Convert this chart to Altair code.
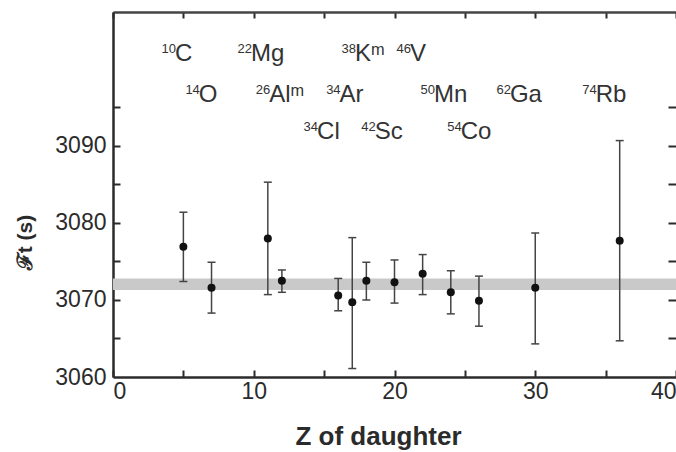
import altair as alt
import pandas as pd

# ---- data ----
z = [5, 7, 11, 12, 16, 17, 18, 20, 22, 24, 26, 30, 36]
ft = [3076.9, 3071.6, 3078.0, 3072.5, 3070.6, 3069.7, 3072.5, 3072.3, 3073.4, 3071.0, 3069.9, 3071.6, 3077.7]
ft_lo = [3072.4, 3068.3, 3070.7, 3071.0, 3068.6, 3061.1, 3070.0, 3069.6, 3070.7, 3068.2, 3066.6, 3064.3, 3064.7]
ft_hi = [3081.4, 3074.9, 3085.3, 3073.9, 3072.8, 3078.1, 3074.9, 3075.2, 3075.9, 3073.8, 3073.1, 3078.7, 3090.7]

mass = ["10", "22", "38", "46", "14", "26", "34", "50", "62", "74", "34", "42", "54"]
element = ["C", "Mg", "K\u1d50", "V", "O", "Al\u1d50", "Ar", "Mn", "Ga", "Rb", "Cl", "Sc", "Co"]
label_x = [4.4, 9.8, 17.2, 21.1, 6.1, 11.1, 16.1, 22.8, 28.2, 34.3, 14.5, 18.6, 24.7]
label_y = [3101.0, 3101.0, 3101.0, 3101.0,
           3095.7, 3095.7, 3095.7, 3095.7, 3095.7, 3095.7,
           3090.9, 3090.9, 3090.9]

band_lo, band_hi = 3071.3, 3072.8
x_domain = [0, 40]
y_domain = [3060, 3107.4]
x_label_vals = [0, 10, 20, 30, 40]
x_tick_vals = [0, 5, 10, 15, 20, 25, 30, 35, 40]
y_label_vals = [3060, 3070, 3080, 3090]
y_tick_vals = [3065, 3070, 3075, 3080, 3085, 3090, 3095]

W, H = 563, 365
INK = "#2b2b2b"
FONT = "Liberation Sans"

pts = pd.DataFrame({"z": z, "ft": ft, "lo": ft_lo, "hi": ft_hi})
labels = pd.DataFrame({"x": label_x, "y": label_y, "mass": mass, "el": element})
band = pd.DataFrame({"x0": [x_domain[0]], "x1": [x_domain[1]], "lo": [band_lo], "hi": [band_hi]})

xs = alt.Scale(domain=x_domain, nice=False, zero=False)
ys = alt.Scale(domain=y_domain, nice=False, zero=False)

# axes
ax_bottom_main = alt.Axis(orient="bottom", values=x_label_vals, ticks=False, tickSize=0,
                          domain=True, domainWidth=2.5, domainColor=INK, grid=False,
                          labelFontSize=23, labelColor=INK, labelPadding=3, labelFlush=True,
                          format="d",
                          title="Z of daughter", titleFontSize=26, titleFontWeight="bold",
                          titleColor=INK, titleX=265, titleY=67, titleAlign="center",
                          titleBaseline="alphabetic")
ax_bottom_ticks = alt.Axis(orient="top", offset=-H, values=x_tick_vals, labels=False,
                           domain=False, ticks=True, tickSize=7, tickWidth=2, tickColor=INK,
                           grid=False, title=None)
ax_top = alt.Axis(orient="bottom", offset=-H, values=x_tick_vals, labels=False,
                  domain=True, domainWidth=2.5, domainColor="#444", ticks=True, tickSize=6,
                  tickWidth=2, tickColor=INK, grid=False, title=None)
ax_left_main = alt.Axis(orient="left", values=y_label_vals, ticks=False, tickSize=0,
                        domain=True, domainWidth=2.5, domainColor=INK, grid=False,
                        labelFontSize=23, labelColor=INK, labelPadding=7, format="d",
                        title="\u2131t (s)", titleFontSize=21, titleFontWeight="bold",
                        titleColor=INK, titleX=-88, titleY=230, titleAlign="center",
                        titleBaseline="middle")
ax_left_ticks = alt.Axis(orient="right", offset=-W, values=y_tick_vals, labels=False,
                         domain=False, ticks=True, tickSize=7, tickWidth=2, tickColor=INK,
                         grid=False, title=None)
ax_right_ticks = alt.Axis(orient="left", offset=-W, values=y_tick_vals, labels=False,
                          domain=False, ticks=True, tickSize=8, tickWidth=2, tickColor=INK,
                          grid=False, title=None)

band_layer = alt.Chart(band).mark_rect(color="#c9c9c9").encode(
    x=alt.X("x0:Q", scale=xs, axis=ax_bottom_main),
    x2="x1:Q",
    y=alt.Y("lo:Q", scale=ys, axis=ax_left_main),
    y2="hi:Q",
)

rules = alt.Chart(pts).mark_rule(color="#444", strokeWidth=1.5).encode(
    x=alt.X("z:Q", scale=xs, axis=ax_bottom_ticks),
    y=alt.Y("lo:Q", scale=ys, axis=ax_left_ticks),
    y2="hi:Q",
)

caps = alt.Chart(pts).transform_fold(["lo", "hi"], as_=["k", "v"]).mark_tick(
    orient="horizontal", size=8, thickness=1.5, color="#444", opacity=1
).encode(
    x=alt.X("z:Q", scale=xs, axis=ax_top),
    y=alt.Y("v:Q", scale=ys, axis=ax_right_ticks),
)

points = alt.Chart(pts).mark_circle(size=64, color="#111", opacity=1).encode(
    x=alt.X("z:Q", scale=xs, axis=None),
    y=alt.Y("ft:Q", scale=ys, axis=None),
)

el_text = alt.Chart(labels).mark_text(align="left", baseline="alphabetic", fontSize=24,
                                      font=FONT, color="#333").encode(
    x=alt.X("x:Q", scale=xs, axis=None),
    y=alt.Y("y:Q", scale=ys, axis=None),
    text="el:N",
)

mass_text = alt.Chart(labels).mark_text(align="right", baseline="alphabetic", fontSize=13,
                                        dx=1, dy=-8.5, font=FONT, color="#333").encode(
    x=alt.X("x:Q", scale=xs, axis=None),
    y=alt.Y("y:Q", scale=ys, axis=None),
    text="mass:N",
)

chart = alt.layer(band_layer, rules, caps, points, el_text, mass_text).resolve_axis(
    x="independent", y="independent"
).properties(
    width=W, height=H,
    padding={"left": 113, "top": 12, "right": 0, "bottom": 75},
    autosize=alt.AutoSizeParams(type="none"),
).configure_view(stroke=None).configure_axis(
    labelFont=FONT, titleFont=FONT
).configure(background="white")

chart.save("out.html", embed_options={"renderer": "svg", "actions": False})
